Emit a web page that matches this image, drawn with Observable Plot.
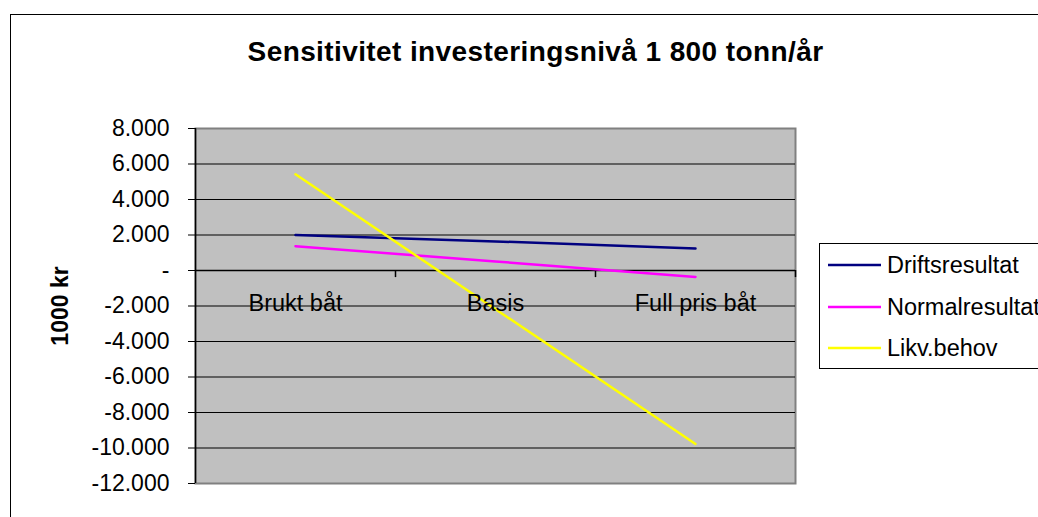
<!DOCTYPE html>
<html><head><meta charset="utf-8">
<script src="https://cdn.jsdelivr.net/npm/d3@7"></script>
<script src="https://cdn.jsdelivr.net/npm/@observablehq/plot@0.6"></script>
<style>body{margin:0;background:#fff;} svg{display:block}</style>
</head><body><div id="chart"></div>
<script>
const titleText = "Sensitivitet investeringsnivå 1 800 tonn/år";
const yLabel = "1000 kr";
const categories = ["Brukt båt", "Basis", "Full pris båt"];
const seriesNames = ["Driftsresultat", "Normalresultat", "Likv.behov"];
const seriesColors = ["#000080", "#FF00FF", "#FFFF00"];
const driftsresultat = [2000, 1640, 1240];
const normalresultat = [1370, 510, -360];
const likvBehov = [5420, -2180, -9770];
const yTicks = [8000, 6000, 4000, 2000, 0, -2000, -4000, -6000, -8000, -10000, -12000];

const locale = d3.formatLocale({decimal: ",", thousands: ".", grouping: [3], currency: ["", ""], minus: "-"});
const numFmt = locale.format(",");
const fmt = d => d === 0 ? "-" : numFmt(d);

const seriesValues = [driftsresultat, normalresultat, likvBehov];
const lineData = [];
seriesNames.forEach((s, si) => categories.forEach((c, ci) => lineData.push({series: s, x: ci + 0.5, value: seriesValues[si][ci]})));

const font = "'Liberation Sans', Arial, sans-serif";
const chart = Plot.plot({
  width: 1038, height: 517,
  marginLeft: 195, marginRight: 243, marginTop: 128, marginBottom: 34,
  style: {fontFamily: font, fontSize: "23px", background: "#fff", color: "#000", overflow: "visible"},
  x: {domain: [0, 3], axis: null},
  y: {domain: [-12000, 8000], axis: null},
  color: {domain: seriesNames, range: seriesColors},
  marks: [
    Plot.frame({fill: "#C0C0C0", stroke: "#808080", strokeWidth: 2}),
    Plot.ruleY(yTicks.slice(1, -1), {stroke: "#000", strokeWidth: 1}),
    Plot.axisY({ticks: yTicks, tickFormat: fmt, tickSize: 7, tickPadding: 19, fontSize: 23, label: null, stroke: "#000", fill: "#000"}),
    Plot.ruleX([0], {stroke: "#000", strokeWidth: 1.5}),
    Plot.ruleY([0], {stroke: "#000", strokeWidth: 1.5}),
    Plot.ruleX([1, 2, 3], {y1: 0, y2: -400, stroke: "#000", strokeWidth: 1.5}),
    Plot.line(lineData, {x: "x", y: "value", z: "series", stroke: "series", strokeWidth: 2.5}),
    Plot.text(categories, {x: (d, i) => i + 0.5, y: 0, dy: 33, fontSize: 23.5, fill: "#000"}),
    Plot.text([titleText], {frameAnchor: "top", dx: 40, dy: -76, lineAnchor: "middle", fontWeight: "bold", fontSize: 28, fill: "#000"}),
    Plot.text([yLabel], {frameAnchor: "left", dx: -135, rotate: -90, textAnchor: "middle", lineAnchor: "middle", fontWeight: "bold", fontSize: 23, fill: "#000"})
  ]
});

const svg = d3.select(chart);
svg.append("rect").attr("x", 10.5).attr("y", 14.5).attr("width", 1100).attr("height", 600)
  .attr("fill", "none").attr("stroke", "#000").attr("stroke-width", 1);
const lg = svg.append("g").attr("font-family", font).attr("font-size", 23.5).attr("text-anchor", "start");
lg.append("rect").attr("x", 819.5).attr("y", 243.5).attr("width", 260).attr("height", 125)
  .attr("fill", "#fff").attr("stroke", "#000").attr("stroke-width", 1);
const rowY = [265, 307, 348];
seriesNames.forEach((s, i) => {
  lg.append("line").attr("x1", 828).attr("x2", 881).attr("y1", rowY[i]).attr("y2", rowY[i])
    .attr("stroke", seriesColors[i]).attr("stroke-width", 2.5);
  lg.append("text").attr("x", 887).attr("y", rowY[i]).attr("dy", "0.35em").attr("text-anchor", "start").attr("fill", "#000").text(s);
});
svg.selectAll("text").filter(function() { return this.textContent === titleText; }).style("letter-spacing", "0.4px");
document.getElementById("chart").appendChild(chart);
</script>
</body></html>
